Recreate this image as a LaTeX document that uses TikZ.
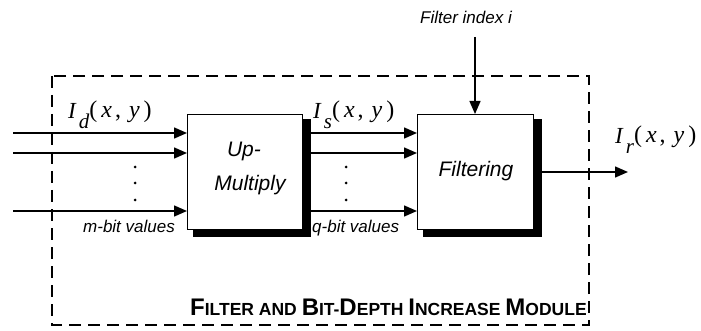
\documentclass[tikz,border=0pt]{standalone}
\usepackage{fontspec}
\setmainfont{Liberation Sans}
\newfontfamily\tmsfont{Liberation Serif}
\usetikzlibrary{arrows.meta}
\usepackage{graphicx}

% signal name I_<sub>(x, y) set in a Times-like italic
\newcommand\signame[1]{{\tmsfont\itshape
  {\fontsize{23}{23}\selectfont I}\kern3pt%
  \raisebox{-10pt}{\fontsize{21}{21}\selectfont #1}%
  \raisebox{1pt}{\fontsize{24}{24}\selectfont\upshape(\kern4pt\textit{x}\kern3pt,\kern8pt\textit{y}\kern4pt)}}}
% fake small caps for the module title
\newcommand\bigc[1]{{\fontsize{24}{24}\selectfont #1}}
\newcommand\smc[1]{{\fontsize{17.5}{17.5}\selectfont #1}}

\tikzset{
  blockbox/.style={draw, line width=1.3pt, fill=white},
  shadowbox/.style={fill=black},
  sig/.style={line width=1.4pt, -{Triangle[length=13pt,width=11pt]}},
  modulebox/.style={line width=2.6pt, dash pattern=on 12pt off 7pt},
  dotmark/.style={circle, fill=black, inner sep=0pt, minimum size=3pt},
  lbl/.style={inner sep=0pt, font=\fontsize{17}{17}\selectfont\itshape},
  boxtext/.style={inner sep=0pt, font=\fontsize{21}{21}\selectfont\itshape},
}

\begin{document}
\begin{tikzpicture}[x=1pt,y=-1pt]
\useasboundingbox (0,0) rectangle (701,331);

% dashed module outline
\draw[modulebox] (52,76) rectangle (589,325);

% shadows and blocks
\fill[shadowbox] (193,119) rectangle (311,237);
\fill[shadowbox] (423,119) rectangle (542,237);
\node[blockbox, minimum width=115pt, minimum height=115pt, anchor=north west, inner sep=0pt] (up) at (187,114) {};
\node[blockbox, minimum width=116pt, minimum height=115pt, anchor=north west, inner sep=0pt] (flt) at (417,114) {};

\node[boxtext, anchor=base] (uptxt1) at (244,157) {Up-};
\node[boxtext, anchor=base] (uptxt2) at (250,191) {Multiply};
\node[boxtext, anchor=base] (flttxt) at (476,177) {Filtering};

% input side
\coordinate (ia) at (13,133);
\coordinate (ib) at (13,153);
\coordinate (ic) at (13,211);
\draw[sig] (ia) -- (ia -| up.west);
\draw[sig] (ib) -- (ib -| up.west);
\draw[sig] (ic) -- (ic -| up.west);
\node[dotmark] (d1) at (135,167) {};
\node[dotmark] (d2) at (135,183) {};
\node[dotmark] (d3) at (135,200) {};

% between the blocks
\coordinate (ma) at (311,133);
\coordinate (mb) at (311,153);
\coordinate (mc) at (311,211);
\draw[sig] (ma) -- (ma -| flt.west);
\draw[sig] (mb) -- (mb -| flt.west);
\draw[sig] (mc) -- (mc -| flt.west);
\node[dotmark] (e1) at (346,167) {};
\node[dotmark] (e2) at (346,183) {};
\node[dotmark] (e3) at (346,200) {};

% filter index input
\node[lbl, anchor=base] (fidx) at (466,24) {Filter index i};
\coordinate (ftop) at (475,37);
\draw[sig] (ftop) -- (ftop |- flt.north);

% output
\coordinate (os) at (542,172);
\coordinate (oe) at (628,172);
\draw[sig] (os) -- (oe);

% signal names
\node[anchor=base west, inner sep=0pt] (Id) at (68,119) {\signame{d}};
\node[anchor=base west, inner sep=0pt] (Is) at (313,119) {\signame{s}};
\node[anchor=base west, inner sep=0pt] (Ir) at (615,144) {\signame{r}};

% bit-width notes
\node[lbl, anchor=base west] (mbit) at (83,233) {m-bit values};
\node[lbl, anchor=base west] (qbit) at (312,233) {q-bit values};

% module title
\node[anchor=base west, inner sep=0pt, font=\bfseries] (title) at (190,315)
  {\bigc{F}\smc{ILTER AND }\bigc{B}\smc{IT-}\bigc{D}\smc{EPTH }\bigc{I}\smc{NCREASE }\bigc{M}\smc{ODULE}};
\end{tikzpicture}
\end{document}
